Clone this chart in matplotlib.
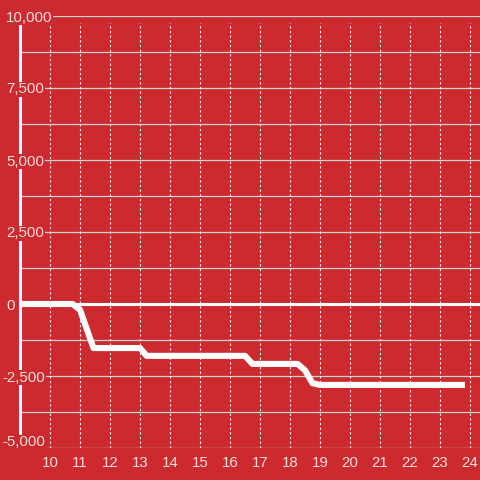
import numpy as np
import matplotlib
matplotlib.use("Agg")
import matplotlib.pyplot as plt
import matplotlib.transforms as mtransforms

# datos
horas = [9.0, 10.75, 11.0, 11.45, 13.0, 13.22, 16.5, 16.75, 18.25, 18.5, 18.75, 19.0, 23.83]
valores = [0, 0, -200, -1530, -1530, -1800, -1800, -2080, -2080, -2300, -2750, -2810, -2810]
ticks_x = list(range(10, 25))
ticks_y = [10000, 7500, 5000, 2500, 0, -2500, -5000]
grid_y = np.arange(-5000, 10001, 1250)

ROJO = "#CC2A2F"
TEXTO = "#F3DEDE"
GRIS = "#D2D2D2"

plt.rcParams["font.family"] = ["Liberation Sans", "DejaVu Sans"]

fig = plt.figure(figsize=(4.8, 4.8), dpi=100, facecolor=ROJO)
ax = fig.add_axes([20 / 480, 32 / 480, 460 / 480, 432 / 480])
ax.set_facecolor(ROJO)

ax.set_xlim(9.0, 9.0 + 460 / 30)
ax.set_ylim(-5000, 10000)

# rejilla horizontal sólida
for g in grid_y:
    ax.axhline(g, color=GRIS, lw=0.9, zorder=1)

# rejilla vertical punteada
ax.vlines(ticks_x, -5000, 9750, colors="white", lw=0.8,
          linestyles=(0, (2, 2.2)), zorder=1)

# línea del cero
ax.axhline(0, color="white", lw=2.2, zorder=2)

# serie
ax.plot(horas, valores, color="white", lw=4.4,
        solid_joinstyle="round", solid_capstyle="butt", zorder=4)

# ejes
for s in ["top", "right", "bottom"]:
    ax.spines[s].set_visible(False)
ax.spines["left"].set_color("white")
ax.spines["left"].set_linewidth(2.2)
ax.spines["left"].set_bounds(-5000, 9720)
ax.spines["left"].set_zorder(2.5)

ax.set_xticks(ticks_x)
ax.set_xticklabels([str(t) for t in ticks_x])
ax.tick_params(axis="x", length=0, pad=6, colors=TEXTO, labelsize=10.8)
ax.set_yticks([])

# etiquetas del eje y con fondo rojo (cortan el eje)
trans = mtransforms.blended_transform_factory(ax.transAxes, ax.transData)
trans = trans + mtransforms.ScaledTranslation(0, -1.5 / 100, fig.dpi_scale_trans)
for t in ticks_y:
    etiqueta = f"{t:,}"
    x0 = (6 - 20) / 460 if t >= 0 else (2 - 20) / 460
    yy = t if t > -5000 else -4750
    ax.text(x0, yy, etiqueta, transform=trans, ha="left", va="center",
            color=TEXTO, fontsize=10.8, zorder=5, clip_on=False,
            bbox=dict(facecolor=ROJO, edgecolor="none", pad=0.5))

fig.savefig("out.png", dpi=100, facecolor=ROJO)
